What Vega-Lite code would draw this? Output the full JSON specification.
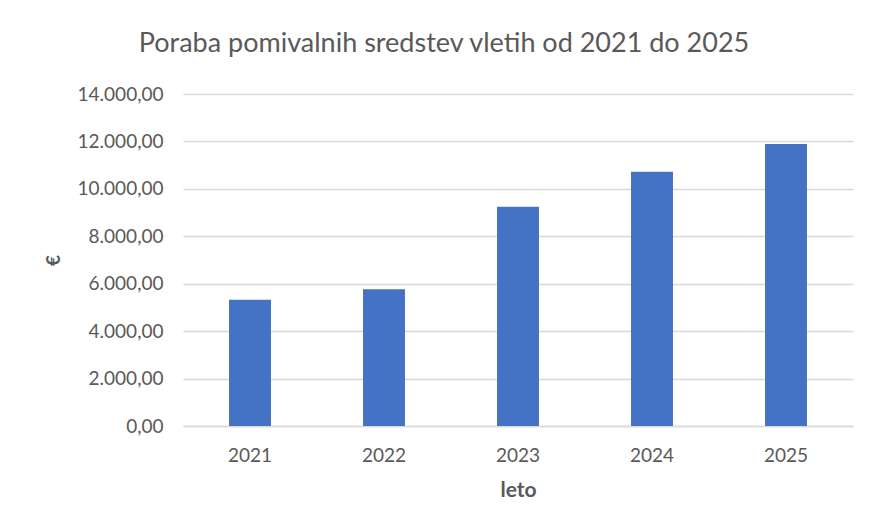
{
  "$schema": "https://vega.github.io/schema/vega-lite/v6.json",
  "autosize": {"type": "none"},
  "width": 670,
  "height": 332,
  "padding": {"left": 183, "top": 94, "right": 16, "bottom": 100},
  "background": "white",
  "config": {
    "locale": {"number": {"decimal": ",", "thousands": ".", "grouping": [3], "currency": ["", " €"]}},
    "view": {"stroke": null},
    "font": "Lato"
  },
  "title": {
    "text": "Poraba pomivalnih  sredstev vletih od 2021 do 2025",
    "font": "Lato",
    "fontSize": 27,
    "fontWeight": "normal",
    "color": "#595959",
    "anchor": "middle",
    "dx": -74,
    "offset": 27
  },
  "data": {
    "values": [
      {"leto": "2021", "vrednost": 5320},
      {"leto": "2022", "vrednost": 5765},
      {"leto": "2023", "vrednost": 9250},
      {"leto": "2024", "vrednost": 10720},
      {"leto": "2025", "vrednost": 11890}
    ]
  },
  "mark": {"type": "bar", "color": "#4472c4"},
  "encoding": {
    "x": {
      "field": "leto",
      "type": "ordinal",
      "title": "leto",
      "scale": {"paddingInner": 0.687, "paddingOuter": 0.3435},
      "axis": {
        "labelAngle": 0,
        "labelFontSize": 19,
        "labelColor": "#595959",
        "labelPadding": 20,
        "ticks": false,
        "domain": true,
        "domainColor": "#d9d9d9",
        "domainWidth": 1.5,
        "titleFontSize": 21,
        "titleFontWeight": "bold",
        "titleColor": "#595959",
        "titlePadding": 14
      }
    },
    "y": {
      "field": "vrednost",
      "type": "quantitative",
      "title": "€",
      "scale": {"domain": [0, 14000], "nice": false},
      "axis": {
        "values": [0, 2000, 4000, 6000, 8000, 10000, 12000, 14000],
        "format": ",.2f",
        "labelFontSize": 19,
        "labelColor": "#595959",
        "labelPadding": 20,
        "ticks": false,
        "domain": false,
        "grid": true,
        "gridColor": "#d9d9d9",
        "gridWidth": 1.5,
        "titleFontSize": 19,
        "titleFontWeight": "bold",
        "titleColor": "#595959",
        "titlePadding": 14
      }
    }
  }
}
